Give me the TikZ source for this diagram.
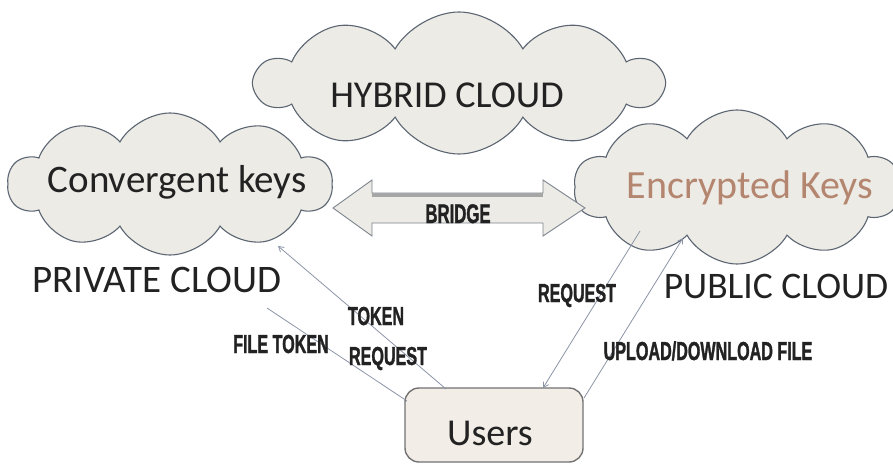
\documentclass[tikz,border=0pt]{standalone}
\usepackage{fontspec}
\setmainfont{Carlito}
\newfontfamily\lblfont[FakeStretch=0.62,FakeBold=1.2]{Liberation Sans Bold}
\usetikzlibrary{shapes.symbols,arrows.meta}
\definecolor{cloudfill}{HTML}{ECEBE6}
\definecolor{cloudline}{HTML}{5C6572}
\definecolor{linkcol}{HTML}{8C95A8}
\definecolor{enccol}{HTML}{B4866F}
\definecolor{userfill}{HTML}{F2EDE6}
\definecolor{txtcol}{HTML}{222222}
\tikzset{
  cloudbox/.style={cloud, cloud puffs=10, cloud puff arc=120, draw=cloudline,
    fill=cloudfill, line width=1.1pt, inner sep=0pt},
  bigtext/.style={anchor=base, text=txtcol, inner sep=0pt, font=\fontsize{38}{40}\selectfont},
  smalltext/.style={anchor=base, text=txtcol, inner sep=0pt, font=\lblfont\fontsize{26}{28}\selectfont},
  link/.style={draw=linkcol, line width=0.8pt},
  tip/.style={-{Straight Barb[length=5pt,width=6pt]}},
}
\begin{document}
\begin{tikzpicture}[x=1pt,y=-1pt]
\useasboundingbox (0,0) rectangle (893,465);
\fill[white] (0,0) rectangle (893,465);

% the three clouds
\node[cloudbox, minimum width=406pt, minimum height=142pt] (hybrid) at (459,83) {};
\node[cloudbox, minimum width=324pt, minimum height=142pt] (conv) at (170,184) {};
\node[cloudbox, minimum width=326pt, minimum height=154pt] (enc) at (737,187) {};

\node[bigtext] (hybridtxt) at (447,108) {HYBRID CLOUD};
\node[bigtext, font=\fontsize{39}{41}\selectfont] (convtxt) at (177,192) {Convergent keys};
\node[bigtext, text=enccol, font=\fontsize{40}{42}\selectfont] (enctxt) at (750,198) {Encrypted Keys};

% bridge between private and public clouds
\coordinate (bl) at (333,208);
\coordinate (br) at (585,208);
\filldraw[draw=cloudline!80, fill=cloudfill, line width=0.9pt]
  (bl) -- (372,180) -- (372,193) -- (543,193) -- (543,180) -- (br)
  -- (543,236) -- (543,223) -- (372,223) -- (372,236) -- cycle;
\fill[black!35] (372,193) rectangle (543,197);
\node[smalltext, font=\lblfont\fontsize{27}{29}\selectfont] (bridge) at (458,223) {BRIDGE};

% cloud captions
\node[bigtext, font=\fontsize{39}{41}\selectfont] (private) at (157,292) {PRIVATE CLOUD};
\node[bigtext, font=\fontsize{37.5}{40}\selectfont] (public) at (776,298) {PUBLIC CLOUD};

% users
\node[draw=black!55, fill=userfill, line width=1.4pt, rounded corners=14pt,
      minimum width=178pt, minimum height=74pt] (users) at (494,425) {};
\node[bigtext] (userstxt) at (490,445) {Users};

% connector end points
\coordinate (convpt) at (278,246);
\coordinate (privpt) at (267,308);
\coordinate (encpt1) at (640,231);
\coordinate (encpt2) at (683,238);
\coordinate (u1) at (446,389);
\coordinate (u2) at (407,401);
\coordinate (u3) at (543,388);
\coordinate (u4) at (584,398);

\draw[link, tip] (u1) -- (convpt);
\draw[link] (privpt) -- (u2);
\draw[link, tip] (encpt1) -- (u3);
\draw[link, tip] (u4) -- (encpt2);

% connector labels
\node[smalltext] (token) at (376,325) {TOKEN};
\node[smalltext] (tokreq) at (388,365) {REQUEST};
\node[smalltext] (filetok) at (281,353) {FILE TOKEN};
\node[smalltext] (request) at (577,302) {REQUEST};
\node[smalltext] (updown) at (708,360) {UPLOAD/DOWNLOAD FILE};
\end{tikzpicture}
\end{document}
